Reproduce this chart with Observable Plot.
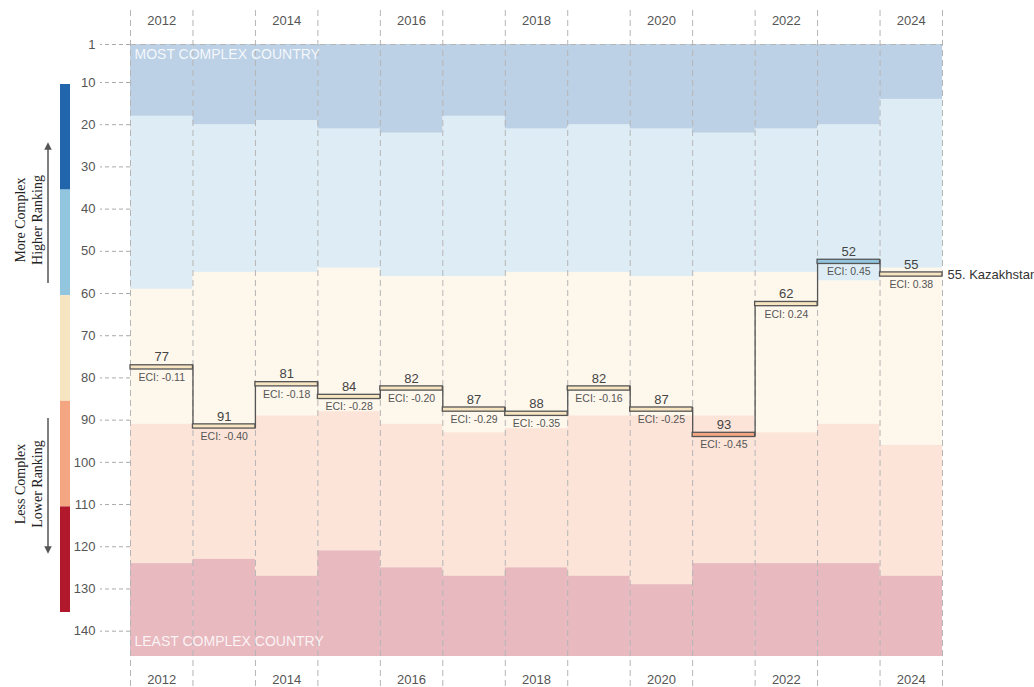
<!DOCTYPE html>
<html>
<head>
<meta charset="utf-8">
<script src="https://cdn.jsdelivr.net/npm/d3@7"></script>
<script src="https://cdn.jsdelivr.net/npm/@observablehq/plot@0.6"></script>
<style>
  body { margin: 0; background: #fff; font-family: "Liberation Sans", Arial, sans-serif; }
  #wrap { position: relative; width: 1034px; height: 687px; overflow: hidden; }
  #chart { position: absolute; left: 0; top: 0; }
  #legend { position: absolute; left: 0; top: 0; }
</style>
</head>
<body>
<div id="wrap"><div id="chart"></div><svg id="legend" width="100" height="687"></svg></div>
<script>
// ---- data ----
const years = [2012, 2013, 2014, 2015, 2016, 2017, 2018, 2019, 2020, 2021, 2022, 2023, 2024];
const ranks = [77, 91, 81, 84, 82, 87, 88, 82, 87, 93, 62, 52, 55];
const eci = [-0.11, -0.40, -0.18, -0.28, -0.20, -0.29, -0.35, -0.16, -0.25, -0.45, 0.24, 0.45, 0.38];
// category boundaries (rank where each category starts) per year
const q1 = [18, 20, 19, 21, 22, 18, 21, 20, 21, 22, 21, 20, 14];
const q2 = [59, 55, 55, 54, 56, 56, 55, 55, 56, 55, 55, 57, 54];
const q3 = [91, 92, 89, 88, 91, 93, 92, 89, 89, 89, 93, 91, 96];
const q4 = [124, 123, 127, 121, 125, 127, 125, 127, 129, 124, 124, 124, 127];
const firstRank = 1;
const lastRank = 146;
const categoryColors = ["#2166ac", "#92c5de", "#f7e4c0", "#f4a582", "#b2182b"];
const yTicks = [1, 10, 20, 30, 40, 50, 60, 70, 80, 90, 100, 110, 120, 130, 140];
const xTicks = [2012, 2014, 2016, 2018, 2020, 2022, 2024];
const countryName = "Kazakhstan";

// ---- derived tables ----
const bands = [];
years.forEach((yr, i) => {
  const edges = [firstRank, q1[i], q2[i], q3[i], q4[i], lastRank];
  for (let c = 0; c < 5; c++) {
    bands.push({year: yr, y1: edges[c], y2: edges[c + 1], color: categoryColors[c]});
  }
});
const points = years.map((yr, i) => {
  const r = ranks[i];
  const cat = r < q1[i] ? 0 : r < q2[i] ? 1 : r < q3[i] ? 2 : r < q4[i] ? 3 : 4;
  return {year: yr, rank: r, eci: eci[i], color: categoryColors[cat]};
});
const connectors = points.slice(0, -1).map((p, i) => {
  const n = points[i + 1];
  return {x: p.year + 0.5, y1: Math.min(p.rank, n.rank), y2: Math.max(p.rank, n.rank) + 1};
});
const boundaries = years.map(y => y - 0.5).concat([years[years.length - 1] + 0.5]);
const last = points[points.length - 1];

const chart = Plot.plot({
  width: 1034,
  height: 687,
  marginLeft: 130,
  marginRight: 92,
  marginTop: 44,
  marginBottom: 31,
  style: {fontFamily: "'Liberation Sans', Arial, sans-serif", background: "transparent"},
  x: {domain: [years[0] - 0.5, years[years.length - 1] + 0.5]},
  y: {domain: [firstRank, lastRank], reverse: true},
  color: {type: "identity"},
  marks: [
    Plot.rectY(bands, {x1: d => d.year - 0.5, x2: d => d.year + 0.5, y1: "y1", y2: "y2", fill: "color", fillOpacity: 0.3}),
    Plot.ruleX(boundaries, {x: d => d, stroke: "#b5b5b5", strokeDasharray: "6,4", insetTop: -34, insetBottom: -31}),
    Plot.ruleY([firstRank], {stroke: "#b5b5b5", strokeDasharray: "6,4"}),
    Plot.axisX(xTicks, {anchor: "top", tickSize: 0, tickPadding: 20, fontSize: 13, color: "#555", label: null, tickFormat: d => String(d)}),
    Plot.axisX(xTicks, {anchor: "bottom", tickSize: 0, tickPadding: 18, fontSize: 13, color: "#555", label: null, tickFormat: d => String(d)}),
    Plot.axisY(yTicks, {anchor: "left", tickSize: 30, tickPadding: 5, fontSize: 13, color: "#555", stroke: "#aaa", strokeDasharray: "4,3", label: null}),
    Plot.text(["MOST COMPLEX COUNTRY"], {x: years[0] - 0.5, y: firstRank, dx: 4, dy: 10, textAnchor: "start", fill: "white", fillOpacity: 0.85, fontSize: 14}),
    Plot.text(["LEAST COMPLEX COUNTRY"], {x: years[0] - 0.5, y: lastRank, dx: 4, dy: -15, textAnchor: "start", fill: "white", fillOpacity: 0.85, fontSize: 14}),
    Plot.ruleX(connectors, {x: "x", y1: "y1", y2: "y2", stroke: "#555", strokeWidth: 1.3}),
    Plot.rectY(points, {x1: d => d.year - 0.5, x2: d => d.year + 0.5, y1: "rank", y2: d => d.rank + 1, fill: "color", stroke: "#555", strokeWidth: 1.3}),
    Plot.text(points, {x: "year", y: "rank", text: d => String(d.rank), dy: -8, fontSize: 13, fill: "#444"}),
    Plot.text(points, {x: "year", y: d => d.rank + 1, text: d => "ECI: " + d.eci.toFixed(2), dy: 8, fontSize: 10.5, fill: "#555"}),
    Plot.text([last], {x: d => d.year + 0.5, y: d => d.rank + 0.5, text: d => d.rank + ". " + countryName, dx: 5, textAnchor: "start", fontSize: 13, fill: "#333"})
  ]
});
document.getElementById("chart").appendChild(chart);

// ---- legend (left side) ----
const lg = d3.select("#legend");
const segTop = 84, segH = 105.6;
categoryColors.forEach((c, i) => {
  lg.append("rect").attr("x", 60).attr("y", segTop + i * segH).attr("width", 10).attr("height", segH).attr("fill", c);
});
const defs = lg.append("defs");
defs.append("marker").attr("id", "ah").attr("viewBox", "0 0 10 10").attr("refX", 5).attr("refY", 5)
  .attr("markerWidth", 5).attr("markerHeight", 5).attr("orient", "auto-start-reverse")
  .append("path").attr("d", "M0,0L10,5L0,10z").attr("fill", "#555");
lg.append("line").attr("x1", 48).attr("x2", 48).attr("y1", 283).attr("y2", 146).attr("stroke", "#555").attr("stroke-width", 1.5).attr("marker-end", "url(#ah)");
lg.append("line").attr("x1", 48).attr("x2", 48).attr("y1", 418).attr("y2", 550).attr("stroke", "#555").attr("stroke-width", 1.5).attr("marker-end", "url(#ah)");
function vtext(x, y, s) {
  lg.append("text").attr("transform", `translate(${x},${y}) rotate(-90)`).attr("text-anchor", "middle")
    .attr("font-family", "'Liberation Serif', 'DejaVu Serif', serif").attr("font-size", 14).attr("fill", "#222").text(s);
}
vtext(25, 220, "More Complex");
vtext(42, 220, "Higher Ranking");
vtext(25, 484, "Less Complex");
vtext(42, 484, "Lower Ranking");
</script>
</body>
</html>
